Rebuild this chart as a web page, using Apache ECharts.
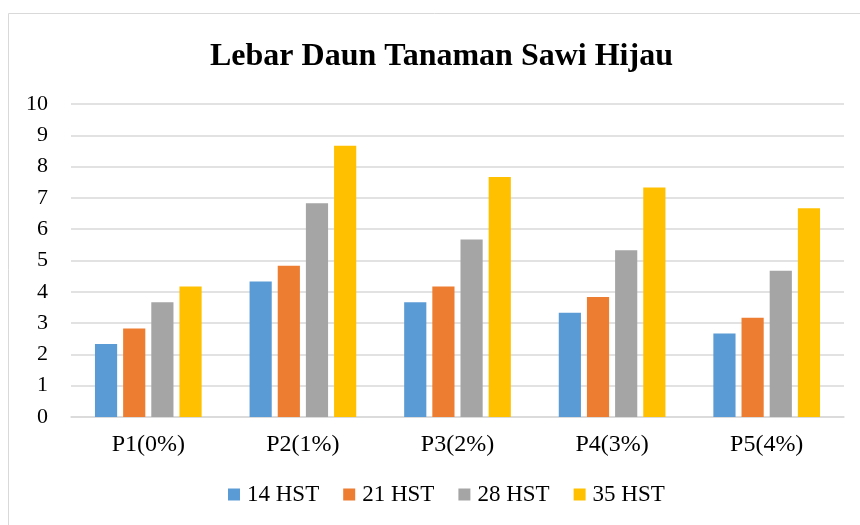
<!DOCTYPE html>
<html lang="id">
<head>
    <meta charset="UTF-8">
    <title>Lebar Daun Tanaman Sawi Hijau</title>
    <script src="https://cdn.jsdelivr.net/npm/echarts@6/dist/echarts.min.js"></script>
    <style>
        html, body { margin: 0; padding: 0; background: #fff; }
        #main { width: 860px; height: 525px; }
    </style>
</head>
<body>
<div id="main"></div>
<script>
    // data
    var categories = ['P1(0%)', 'P2(1%)', 'P3(2%)', 'P4(3%)', 'P5(4%)'];
    var hst14 = [2.33, 4.33, 3.67, 3.33, 2.67];
    var hst21 = [2.83, 4.83, 4.17, 3.83, 3.17];
    var hst28 = [3.67, 6.83, 5.67, 5.33, 4.67];
    var hst35 = [4.17, 8.67, 7.67, 7.33, 6.67];
    var seriesNames = ['14 HST', '21 HST', '28 HST', '35 HST'];
    var colors = ['#5b9bd5', '#ed7d31', '#a5a5a5', '#ffc000'];

    var font = '"Liberation Serif", "Times New Roman", serif';
    var myChart = echarts.init(document.getElementById('main'));

    var list = [hst14, hst21, hst28, hst35];
    var series = list.map(function (d, i) {
        return {
            name: seriesNames[i],
            type: 'bar',
            data: d,
            barGap: '27%',
            barCategoryGap: '31%',
            itemStyle: {color: colors[i]}
        };
    });

    var option = {
        animation: false,
        color: colors,
        textStyle: {fontFamily: font},
        graphic: [{
            type: 'rect',
            shape: {x: 8.5, y: 13.5, width: 900, height: 600},
            style: {fill: 'none', stroke: '#d9d9d9', lineWidth: 1}
        }],
        title: {
            text: 'Lebar Daun Tanaman Sawi Hijau',
            left: 205,
            top: 36,
            textStyle: {fontFamily: font, fontSize: 32, fontWeight: 'bold', color: '#000'}
        },
        legend: {
            data: seriesNames,
            bottom: 14,
            left: 223,
            itemWidth: 12,
            itemHeight: 12,
            itemGap: 24,
            icon: 'rect',
            textStyle: {fontFamily: font, fontSize: 23, color: '#000', padding: [0, 0, 0, 2]}
        },
        grid: {
            left: 71,
            right: 16,
            top: 104,
            bottom: 108
        },
        xAxis: {
            type: 'category',
            data: categories,
            axisLine: {lineStyle: {color: '#d9d9d9', width: 1.5}},
            axisTick: {show: false},
            axisLabel: {fontFamily: font, fontSize: 24, color: '#000', margin: 16}
        },
        yAxis: {
            type: 'value',
            min: 0,
            max: 10,
            interval: 1,
            axisLine: {show: false},
            axisTick: {show: false},
            splitLine: {lineStyle: {color: '#d9d9d9', width: 1.5}},
            axisLabel: {fontFamily: font, fontSize: 22, color: '#000', margin: 23}
        },
        series: series
    };
    myChart.setOption(option);
</script>
</body>
</html>
